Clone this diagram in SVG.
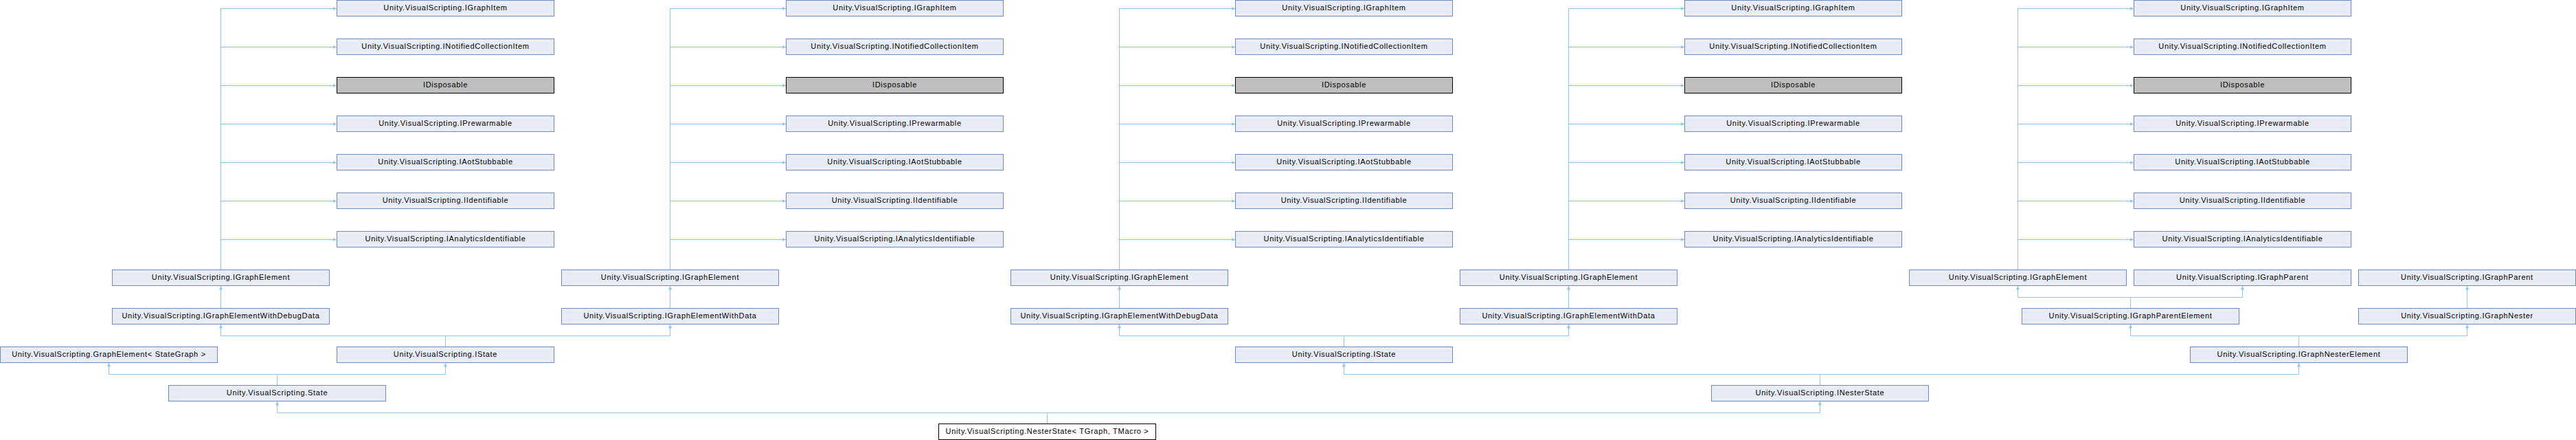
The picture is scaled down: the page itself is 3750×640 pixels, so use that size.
<svg xmlns="http://www.w3.org/2000/svg" width="3750" height="640" viewBox="0 0 3750 640">
<style>
.n rect{fill:#e8ecf6;stroke:#7089c6;stroke-width:1}
.g rect{fill:#bfbfbf;stroke:#000;stroke-width:1}
.c rect{fill:#fff;stroke:#000;stroke-width:1}
text{font-family:"Liberation Sans",Arial,Helvetica,sans-serif;font-size:11px;letter-spacing:0.7px;text-anchor:middle;fill:#000}
#edges path{fill:none;stroke:#8fc7eb;stroke-width:1;marker-end:url(#a)}
</style>
<defs>
<marker id="a" markerWidth="6" markerHeight="5" refX="6" refY="2.5" orient="auto" markerUnits="userSpaceOnUse"><path d="M0,0L6,2.5L0,5z" fill="#8fc7eb"/></marker>
</defs>
<rect x="0" y="0" width="3750" height="640" fill="#fff"/>
<g id="edges">
<path d="M321.5,392.5V12.5H490.5"/><path d="M321.5,392.5V68.5H490.5"/><path d="M321.5,392.5V124.5H490.5"/><path d="M321.5,392.5V180.5H490.5"/><path d="M321.5,392.5V236.5H490.5"/><path d="M321.5,392.5V292.5H490.5"/><path d="M321.5,392.5V348.5H490.5"/>
<path d="M975.5,392.5V12.5H1144.5"/><path d="M975.5,392.5V68.5H1144.5"/><path d="M975.5,392.5V124.5H1144.5"/><path d="M975.5,392.5V180.5H1144.5"/><path d="M975.5,392.5V236.5H1144.5"/><path d="M975.5,392.5V292.5H1144.5"/><path d="M975.5,392.5V348.5H1144.5"/>
<path d="M1629.5,392.5V12.5H1798.5"/><path d="M1629.5,392.5V68.5H1798.5"/><path d="M1629.5,392.5V124.5H1798.5"/><path d="M1629.5,392.5V180.5H1798.5"/><path d="M1629.5,392.5V236.5H1798.5"/><path d="M1629.5,392.5V292.5H1798.5"/><path d="M1629.5,392.5V348.5H1798.5"/>
<path d="M2283.5,392.5V12.5H2452.5"/><path d="M2283.5,392.5V68.5H2452.5"/><path d="M2283.5,392.5V124.5H2452.5"/><path d="M2283.5,392.5V180.5H2452.5"/><path d="M2283.5,392.5V236.5H2452.5"/><path d="M2283.5,392.5V292.5H2452.5"/><path d="M2283.5,392.5V348.5H2452.5"/>
<path d="M2937.5,392.5V12.5H3106.5"/><path d="M2937.5,392.5V68.5H3106.5"/><path d="M2937.5,392.5V124.5H3106.5"/><path d="M2937.5,392.5V180.5H3106.5"/><path d="M2937.5,392.5V236.5H3106.5"/><path d="M2937.5,392.5V292.5H3106.5"/><path d="M2937.5,392.5V348.5H3106.5"/>
<path d="M321.5,448.5V415.5"/>
<path d="M975.5,448.5V415.5"/>
<path d="M1629.5,448.5V415.5"/>
<path d="M2283.5,448.5V415.5"/>
<path d="M3101.5,448.5V432.5H2937.5V415.5"/><path d="M3101.5,448.5V432.5H3264.5V415.5"/>
<path d="M3591.5,448.5V415.5"/>
<path d="M648.5,504.5V488.5H321.5V471.5"/><path d="M648.5,504.5V488.5H975.5V471.5"/>
<path d="M1956.5,504.5V488.5H1629.5V471.5"/><path d="M1956.5,504.5V488.5H2283.5V471.5"/>
<path d="M3346.5,504.5V488.5H3101.5V471.5"/><path d="M3346.5,504.5V488.5H3591.5V471.5"/>
<path d="M403.5,560.5V544.5H158.5V527.5"/><path d="M403.5,560.5V544.5H648.5V527.5"/>
<path d="M2649.5,560.5V544.5H1956.5V527.5"/><path d="M2649.5,560.5V544.5H3346.5V527.5"/>
<path d="M1524.5,616.5V600.5H403.5V583.5"/><path d="M1524.5,616.5V600.5H2649.5V583.5"/>
</g>
<g id="g1_IGraphItem" class="n"><rect x="490.5" y="0.5" width="316" height="23"/><text x="648.5" y="14.5">Unity.VisualScripting.IGraphItem</text></g>
<g id="g1_INotifiedCollectionItem" class="n"><rect x="490.5" y="56.5" width="316" height="23"/><text x="648.5" y="70.5">Unity.VisualScripting.INotifiedCollectionItem</text></g>
<g id="g1_IDisposable" class="g"><rect x="490.5" y="112.5" width="316" height="23"/><text x="648.5" y="126.5">IDisposable</text></g>
<g id="g1_IPrewarmable" class="n"><rect x="490.5" y="168.5" width="316" height="23"/><text x="648.5" y="182.5">Unity.VisualScripting.IPrewarmable</text></g>
<g id="g1_IAotStubbable" class="n"><rect x="490.5" y="224.5" width="316" height="23"/><text x="648.5" y="238.5">Unity.VisualScripting.IAotStubbable</text></g>
<g id="g1_IIdentifiable" class="n"><rect x="490.5" y="280.5" width="316" height="23"/><text x="648.5" y="294.5">Unity.VisualScripting.IIdentifiable</text></g>
<g id="g1_IAnalyticsIdentifiable" class="n"><rect x="490.5" y="336.5" width="316" height="23"/><text x="648.5" y="350.5">Unity.VisualScripting.IAnalyticsIdentifiable</text></g>
<g id="g2_IGraphItem" class="n"><rect x="1144.5" y="0.5" width="316" height="23"/><text x="1302.5" y="14.5">Unity.VisualScripting.IGraphItem</text></g>
<g id="g2_INotifiedCollectionItem" class="n"><rect x="1144.5" y="56.5" width="316" height="23"/><text x="1302.5" y="70.5">Unity.VisualScripting.INotifiedCollectionItem</text></g>
<g id="g2_IDisposable" class="g"><rect x="1144.5" y="112.5" width="316" height="23"/><text x="1302.5" y="126.5">IDisposable</text></g>
<g id="g2_IPrewarmable" class="n"><rect x="1144.5" y="168.5" width="316" height="23"/><text x="1302.5" y="182.5">Unity.VisualScripting.IPrewarmable</text></g>
<g id="g2_IAotStubbable" class="n"><rect x="1144.5" y="224.5" width="316" height="23"/><text x="1302.5" y="238.5">Unity.VisualScripting.IAotStubbable</text></g>
<g id="g2_IIdentifiable" class="n"><rect x="1144.5" y="280.5" width="316" height="23"/><text x="1302.5" y="294.5">Unity.VisualScripting.IIdentifiable</text></g>
<g id="g2_IAnalyticsIdentifiable" class="n"><rect x="1144.5" y="336.5" width="316" height="23"/><text x="1302.5" y="350.5">Unity.VisualScripting.IAnalyticsIdentifiable</text></g>
<g id="g3_IGraphItem" class="n"><rect x="1798.5" y="0.5" width="316" height="23"/><text x="1956.5" y="14.5">Unity.VisualScripting.IGraphItem</text></g>
<g id="g3_INotifiedCollectionItem" class="n"><rect x="1798.5" y="56.5" width="316" height="23"/><text x="1956.5" y="70.5">Unity.VisualScripting.INotifiedCollectionItem</text></g>
<g id="g3_IDisposable" class="g"><rect x="1798.5" y="112.5" width="316" height="23"/><text x="1956.5" y="126.5">IDisposable</text></g>
<g id="g3_IPrewarmable" class="n"><rect x="1798.5" y="168.5" width="316" height="23"/><text x="1956.5" y="182.5">Unity.VisualScripting.IPrewarmable</text></g>
<g id="g3_IAotStubbable" class="n"><rect x="1798.5" y="224.5" width="316" height="23"/><text x="1956.5" y="238.5">Unity.VisualScripting.IAotStubbable</text></g>
<g id="g3_IIdentifiable" class="n"><rect x="1798.5" y="280.5" width="316" height="23"/><text x="1956.5" y="294.5">Unity.VisualScripting.IIdentifiable</text></g>
<g id="g3_IAnalyticsIdentifiable" class="n"><rect x="1798.5" y="336.5" width="316" height="23"/><text x="1956.5" y="350.5">Unity.VisualScripting.IAnalyticsIdentifiable</text></g>
<g id="g4_IGraphItem" class="n"><rect x="2452.5" y="0.5" width="316" height="23"/><text x="2610.5" y="14.5">Unity.VisualScripting.IGraphItem</text></g>
<g id="g4_INotifiedCollectionItem" class="n"><rect x="2452.5" y="56.5" width="316" height="23"/><text x="2610.5" y="70.5">Unity.VisualScripting.INotifiedCollectionItem</text></g>
<g id="g4_IDisposable" class="g"><rect x="2452.5" y="112.5" width="316" height="23"/><text x="2610.5" y="126.5">IDisposable</text></g>
<g id="g4_IPrewarmable" class="n"><rect x="2452.5" y="168.5" width="316" height="23"/><text x="2610.5" y="182.5">Unity.VisualScripting.IPrewarmable</text></g>
<g id="g4_IAotStubbable" class="n"><rect x="2452.5" y="224.5" width="316" height="23"/><text x="2610.5" y="238.5">Unity.VisualScripting.IAotStubbable</text></g>
<g id="g4_IIdentifiable" class="n"><rect x="2452.5" y="280.5" width="316" height="23"/><text x="2610.5" y="294.5">Unity.VisualScripting.IIdentifiable</text></g>
<g id="g4_IAnalyticsIdentifiable" class="n"><rect x="2452.5" y="336.5" width="316" height="23"/><text x="2610.5" y="350.5">Unity.VisualScripting.IAnalyticsIdentifiable</text></g>
<g id="g5_IGraphItem" class="n"><rect x="3106.5" y="0.5" width="316" height="23"/><text x="3264.5" y="14.5">Unity.VisualScripting.IGraphItem</text></g>
<g id="g5_INotifiedCollectionItem" class="n"><rect x="3106.5" y="56.5" width="316" height="23"/><text x="3264.5" y="70.5">Unity.VisualScripting.INotifiedCollectionItem</text></g>
<g id="g5_IDisposable" class="g"><rect x="3106.5" y="112.5" width="316" height="23"/><text x="3264.5" y="126.5">IDisposable</text></g>
<g id="g5_IPrewarmable" class="n"><rect x="3106.5" y="168.5" width="316" height="23"/><text x="3264.5" y="182.5">Unity.VisualScripting.IPrewarmable</text></g>
<g id="g5_IAotStubbable" class="n"><rect x="3106.5" y="224.5" width="316" height="23"/><text x="3264.5" y="238.5">Unity.VisualScripting.IAotStubbable</text></g>
<g id="g5_IIdentifiable" class="n"><rect x="3106.5" y="280.5" width="316" height="23"/><text x="3264.5" y="294.5">Unity.VisualScripting.IIdentifiable</text></g>
<g id="g5_IAnalyticsIdentifiable" class="n"><rect x="3106.5" y="336.5" width="316" height="23"/><text x="3264.5" y="350.5">Unity.VisualScripting.IAnalyticsIdentifiable</text></g>
<g id="g1_IGraphElement" class="n"><rect x="163.5" y="392.5" width="316" height="23"/><text x="321.5" y="406.5">Unity.VisualScripting.IGraphElement</text></g>
<g id="g2_IGraphElement" class="n"><rect x="817.5" y="392.5" width="316" height="23"/><text x="975.5" y="406.5">Unity.VisualScripting.IGraphElement</text></g>
<g id="g3_IGraphElement" class="n"><rect x="1471.5" y="392.5" width="316" height="23"/><text x="1629.5" y="406.5">Unity.VisualScripting.IGraphElement</text></g>
<g id="g4_IGraphElement" class="n"><rect x="2125.5" y="392.5" width="316" height="23"/><text x="2283.5" y="406.5">Unity.VisualScripting.IGraphElement</text></g>
<g id="g5_IGraphElement" class="n"><rect x="2779.5" y="392.5" width="316" height="23"/><text x="2937.5" y="406.5">Unity.VisualScripting.IGraphElement</text></g>
<g id="IGraphParent_1" class="n"><rect x="3106.5" y="392.5" width="316" height="23"/><text x="3264.5" y="406.5">Unity.VisualScripting.IGraphParent</text></g>
<g id="IGraphParent_2" class="n"><rect x="3433.5" y="392.5" width="316" height="23"/><text x="3591.5" y="406.5">Unity.VisualScripting.IGraphParent</text></g>
<g id="g1_IGraphElementWithDebugData" class="n"><rect x="163.5" y="448.5" width="316" height="23"/><text x="321.5" y="462.5">Unity.VisualScripting.IGraphElementWithDebugData</text></g>
<g id="g2_IGraphElementWithData" class="n"><rect x="817.5" y="448.5" width="316" height="23"/><text x="975.5" y="462.5">Unity.VisualScripting.IGraphElementWithData</text></g>
<g id="g3_IGraphElementWithDebugData" class="n"><rect x="1471.5" y="448.5" width="316" height="23"/><text x="1629.5" y="462.5">Unity.VisualScripting.IGraphElementWithDebugData</text></g>
<g id="g4_IGraphElementWithData" class="n"><rect x="2125.5" y="448.5" width="316" height="23"/><text x="2283.5" y="462.5">Unity.VisualScripting.IGraphElementWithData</text></g>
<g id="IGraphParentElement" class="n"><rect x="2943.5" y="448.5" width="316" height="23"/><text x="3101.5" y="462.5">Unity.VisualScripting.IGraphParentElement</text></g>
<g id="IGraphNester" class="n"><rect x="3433.5" y="448.5" width="316" height="23"/><text x="3591.5" y="462.5">Unity.VisualScripting.IGraphNester</text></g>
<g id="GraphElement_StateGraph" class="n"><rect x="0.5" y="504.5" width="316" height="23"/><text x="158.5" y="518.5">Unity.VisualScripting.GraphElement&lt; StateGraph &gt;</text></g>
<g id="IState_1" class="n"><rect x="490.5" y="504.5" width="316" height="23"/><text x="648.5" y="518.5">Unity.VisualScripting.IState</text></g>
<g id="IState_2" class="n"><rect x="1798.5" y="504.5" width="316" height="23"/><text x="1956.5" y="518.5">Unity.VisualScripting.IState</text></g>
<g id="IGraphNesterElement" class="n"><rect x="3188.5" y="504.5" width="316" height="23"/><text x="3346.5" y="518.5">Unity.VisualScripting.IGraphNesterElement</text></g>
<g id="State" class="n"><rect x="245.5" y="560.5" width="316" height="23"/><text x="403.5" y="574.5">Unity.VisualScripting.State</text></g>
<g id="INesterState" class="n"><rect x="2491.5" y="560.5" width="316" height="23"/><text x="2649.5" y="574.5">Unity.VisualScripting.INesterState</text></g>
<g id="NesterState" class="c"><rect x="1366.5" y="616.5" width="316" height="23"/><text x="1524.5" y="630.5">Unity.VisualScripting.NesterState&lt; TGraph, TMacro &gt;</text></g>
</svg>
